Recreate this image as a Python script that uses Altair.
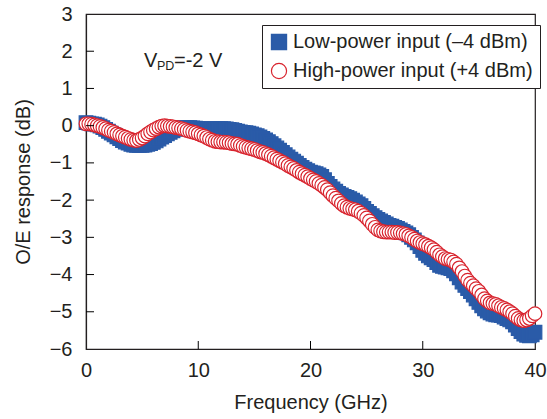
import altair as alt
import pandas as pd

# frequency grid (GHz), 0.25 GHz spacing
freq = [i * 0.25 for i in range(161)]

low_power = [
    0.08, 0.07, 0.05, 0.04, 0.02, -0.01, -0.05, -0.10, -0.15, -0.20,
    -0.25, -0.30, -0.35, -0.40, -0.44, -0.47, -0.50, -0.52, -0.53, -0.53,
    -0.53, -0.52, -0.50, -0.48, -0.45, -0.41, -0.36, -0.31, -0.27, -0.22,
    -0.18, -0.14, -0.10, -0.08, -0.06, -0.05, -0.05, -0.05, -0.06, -0.07,
    -0.08, -0.08, -0.09, -0.09, -0.09, -0.09, -0.08, -0.08, -0.08, -0.08,
    -0.09, -0.10, -0.11, -0.13, -0.15, -0.17, -0.18, -0.19, -0.20, -0.22,
    -0.25, -0.27, -0.30, -0.34, -0.38, -0.43, -0.48, -0.54, -0.60, -0.66,
    -0.72, -0.78, -0.84, -0.90, -0.95, -1.01, -1.07, -1.12, -1.17, -1.21,
    -1.25, -1.27, -1.29, -1.32, -1.36, -1.45, -1.55, -1.63, -1.70, -1.76,
    -1.82, -1.86, -1.90, -1.93, -1.96, -2.00, -2.05, -2.10, -2.15, -2.22,
    -2.30, -2.36, -2.42, -2.47, -2.52, -2.56, -2.60, -2.64, -2.68, -2.70,
    -2.73, -2.76, -2.80, -2.84, -2.88, -2.93, -3.00, -3.07, -3.15, -3.25,
    -3.35, -3.43, -3.50, -3.55, -3.60, -3.68, -3.75, -3.78, -3.80, -3.82,
    -3.84, -3.90, -3.98, -4.09, -4.20, -4.29, -4.38, -4.46, -4.55, -4.65,
    -4.75, -4.84, -4.92, -4.98, -5.03, -5.06, -5.08, -5.09, -5.10, -5.14,
    -5.18, -5.22, -5.27, -5.36, -5.45, -5.53, -5.60, -5.63, -5.65, -5.62,
    -5.55,
]

high_power = [
    0.05, 0.05, 0.04, 0.02, 0.00, -0.02, -0.05, -0.08, -0.12, -0.15,
    -0.18, -0.22, -0.25, -0.28, -0.31, -0.34, -0.37, -0.39, -0.40, -0.37,
    -0.33, -0.28, -0.22, -0.17, -0.12, -0.08, -0.04, -0.01, 0.00, -0.01,
    -0.02, -0.03, -0.05, -0.06, -0.08, -0.10, -0.13, -0.15, -0.17, -0.19,
    -0.22, -0.25, -0.28, -0.32, -0.36, -0.39, -0.42, -0.43, -0.44, -0.44,
    -0.45, -0.46, -0.48, -0.49, -0.50, -0.53, -0.56, -0.58, -0.60, -0.62,
    -0.64, -0.67, -0.70, -0.72, -0.75, -0.78, -0.82, -0.86, -0.90, -0.94,
    -0.98, -1.02, -1.07, -1.11, -1.15, -1.20, -1.25, -1.29, -1.33, -1.37,
    -1.42, -1.46, -1.50, -1.55, -1.60, -1.66, -1.72, -1.80, -1.88, -1.95,
    -2.02, -2.09, -2.15, -2.19, -2.22, -2.24, -2.26, -2.30, -2.35, -2.41,
    -2.48, -2.56, -2.65, -2.73, -2.80, -2.83, -2.85, -2.86, -2.86, -2.86,
    -2.87, -2.87, -2.88, -2.90, -2.92, -2.96, -3.00, -3.05, -3.10, -3.14,
    -3.17, -3.20, -3.24, -3.28, -3.33, -3.40, -3.47, -3.52, -3.57, -3.59,
    -3.61, -3.66, -3.72, -3.82, -3.92, -4.04, -4.15, -4.23, -4.30, -4.38,
    -4.45, -4.55, -4.65, -4.71, -4.76, -4.78, -4.80, -4.84, -4.88, -4.91,
    -4.95, -5.00, -5.05, -5.12, -5.18, -5.22, -5.24, -5.22, -5.18, -5.11,
    -5.05,
]

series_names = ["Low-power input (\u20134 dBm)", "High-power input (+4 dBm)"]
x_labels = [0, 10, 20, 30, 40]
y_labels = [-6, -5, -4, -3, -2, -1, 0, 1, 2, 3]
x_ticks = [10, 20, 30]
y_ticks = [-5, -4, -3, -2, -1, 0, 1, 2]

BLUE = "#2a5ba8"
RED = "#d8232d"
FONT = "Liberation Sans"
TXT = "#231f20"

df = pd.concat([
    pd.DataFrame({"f": freq, "r": low_power, "s": series_names[0]}),
    pd.DataFrame({"f": freq, "r": high_power, "s": series_names[1]}),
], ignore_index=True)

xscale = alt.Scale(domain=[0, 40], nice=False, zero=False)
yscale = alt.Scale(domain=[-6, 3], nice=False, zero=False)

xaxis = alt.Axis(title="Frequency (GHz)", values=x_labels, format="d",
                 labelPadding=11, titlePadding=12, labelFlush=False, labelOverlap=False)
yaxis = alt.Axis(title="O/E response (dB)", values=y_labels, format="d",
                 labelPadding=14, titlePadding=16, labelFlush=False, labelOverlap=False)

leg = alt.Legend(title=None, orient="none", legendX=176, legendY=11, labelLimit=500)

points = alt.Chart(df).mark_point(size=185, opacity=1, strokeWidth=1.2, filled=False).encode(
    x=alt.X("f:Q", scale=xscale, axis=xaxis),
    y=alt.Y("r:Q", scale=yscale, axis=yaxis),
    shape=alt.Shape("s:N", scale=alt.Scale(domain=series_names, range=["square", "circle"]),
                    legend=leg),
    fill=alt.Fill("s:N", scale=alt.Scale(domain=series_names, range=[BLUE, "white"]),
                  legend=leg),
    stroke=alt.Stroke("s:N", scale=alt.Scale(domain=series_names, range=[BLUE, RED]),
                      legend=leg),
)

xt = alt.Chart(pd.DataFrame({"v": x_ticks})).mark_rule(color="black", strokeWidth=1).encode(
    x=alt.X("v:Q", scale=xscale, axis=xaxis), y=alt.value(335), y2=alt.value(327)
)
yt = alt.Chart(pd.DataFrame({"v": y_ticks})).mark_rule(color="black", strokeWidth=1).encode(
    y=alt.Y("v:Q", scale=yscale, axis=yaxis), x=alt.value(0), x2=alt.value(8)
)

ann_v = alt.Chart(pd.DataFrame({"t": ["V"]})).mark_text(
    align="left", baseline="alphabetic", fontSize=20, font=FONT, color=TXT
).encode(text="t:N", x=alt.value(58), y=alt.value(53))
ann_pd = alt.Chart(pd.DataFrame({"t": ["PD"]})).mark_text(
    align="left", baseline="alphabetic", fontSize=12.5, font=FONT, color=TXT
).encode(text="t:N", x=alt.value(71), y=alt.value(56))
ann_rest = alt.Chart(pd.DataFrame({"t": ["=-2 V"]})).mark_text(
    align="left", baseline="alphabetic", fontSize=20, font=FONT, color=TXT
).encode(text="t:N", x=alt.value(88), y=alt.value(53))

chart = alt.layer(points, xt, yt, ann_v, ann_pd, ann_rest).properties(
    width=449, height=335,
    autosize=alt.AutoSizeParams(type="none"),
    padding={"left": 86, "top": 14, "right": 12, "bottom": 70},
).configure_view(
    stroke="#231f20", strokeWidth=1.2
).configure_axis(
    domainColor="#231f20", domainWidth=1.2, ticks=False, grid=False,
    labelFont=FONT, labelFontSize=20, labelColor=TXT,
    titleFont=FONT, titleFontSize=20, titleFontWeight="normal", titleColor=TXT,
).configure_legend(
    strokeColor="#231f20", fillColor="white", padding=7, rowPadding=9,
    labelFont=FONT, labelFontSize=20, labelColor=TXT, labelOffset=4,
    symbolSize=230, symbolStrokeWidth=1.2, cornerRadius=0,
)

chart.save("out.html", embed_options={"renderer": "svg", "actions": False})
